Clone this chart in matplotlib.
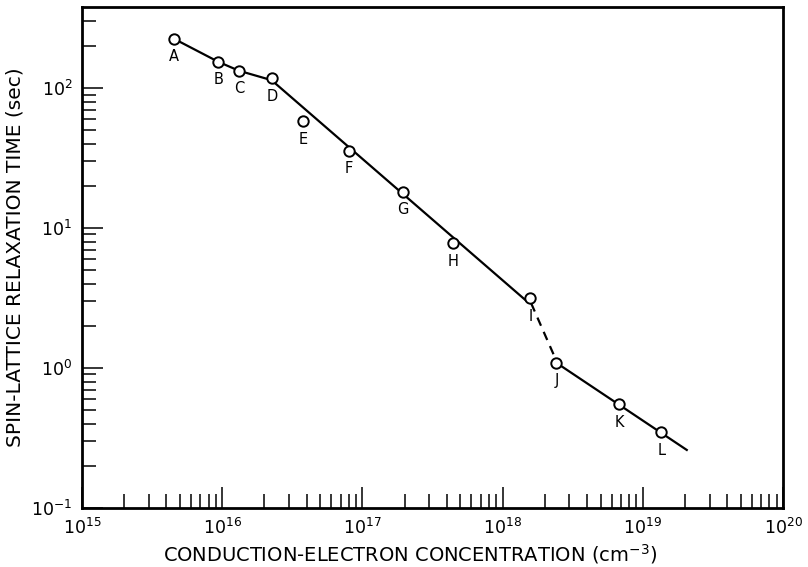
import numpy as np
import matplotlib
matplotlib.use("Agg")
import matplotlib.pyplot as plt

# ==============================
# Data
# ==============================

point_names = ["A", "B", "C", "D", "E", "F", "G", "H", "I", "J", "K", "L"]
concentration = [4.5e15, 9.4e15, 1.32e16, 2.26e16, 3.8e16, 8.0e16,
                 1.95e17, 4.4e17, 1.58e18, 2.42e18, 6.8e18, 1.36e19]
relax_time = [226, 154, 133, 118, 58, 35.6, 18.2, 7.8, 3.16, 1.09, 0.55, 0.348]

# drawn curve (low-concentration branch), solid
curve1_x = [4.5e15, 9.4e15, 1.32e16, 2.25e16, 1.49e18]
curve1_y = [226, 154, 133, 114, 3.0]
# transition I -> J, dashed
curve2_x = [1.6e18, 2.38e18]
curve2_y = [2.9, 1.17]
# high-concentration branch, solid
curve3_x = [2.42e18, 2.06e19]
curve3_y = [1.09, 0.26]

x_ticks = [1e15, 1e16, 1e17, 1e18, 1e19, 1e20]
x_ticklabels = [r"$10^{15}$", r"$10^{16}$", r"$10^{17}$", r"$10^{18}$", r"$10^{19}$", r"$10^{20}$"]
y_ticks = [1e-1, 1e0, 1e1, 1e2]
y_ticklabels = [r"$10^{-1}$", r"$10^{0}$", r"$10^{1}$", r"$10^{2}$"]

# ==============================
# Plot
# ==============================

plt.rcParams["mathtext.fontset"] = "dejavusans"
plt.rcParams["font.family"] = "DejaVu Sans"

fig = plt.figure(figsize=(8.08, 5.67), dpi=100)
ax = fig.add_axes([0.1015, 0.104, 0.8675, 0.8837])

ax.set_xscale("log")
ax.set_yscale("log")
ax.set_xlim(1e15, 1e20)
ax.set_ylim(1e-1, 380)

ax.plot(curve1_x, curve1_y, color="black", lw=1.6, zorder=2)
ax.plot(curve2_x, curve2_y, color="black", lw=1.6, ls=(0, (4, 3)), zorder=2)
ax.plot(curve3_x, curve3_y, color="black", lw=1.6, zorder=2)

ax.plot(concentration, relax_time, ls="none", marker="o", ms=7.5,
        mfc="white", mec="black", mew=1.4, zorder=3)

for name, cx, ty in zip(point_names, concentration, relax_time):
    ax.annotate(name, (cx, ty), xytext=(0, -13), textcoords="offset points",
                ha="center", va="center", fontsize=10.5)

ax.set_xticks(x_ticks)
ax.set_xticklabels(x_ticklabels, fontsize=12.5)
ax.set_yticks(y_ticks)
ax.set_yticklabels(y_ticklabels, fontsize=12.5)

ax.tick_params(which="major", direction="in", length=15, width=1.1,
               top=False, right=False, pad=7)
ax.tick_params(which="minor", direction="in", length=10, width=1.1,
               top=False, right=False)
ax.tick_params(axis="y", which="minor", labelleft=False)
ax.tick_params(axis="x", which="minor", labelbottom=False)

for s in ax.spines.values():
    s.set_linewidth(2)

ax.set_xlabel(r"CONDUCTION-ELECTRON CONCENTRATION (cm$^{-3}$)", fontsize=14)
ax.set_ylabel("SPIN-LATTICE RELAXATION TIME (sec)", fontsize=14.5)
ax.xaxis.set_label_coords(0.468, -0.068)
ax.yaxis.set_label_coords(-0.082, 0.5)

fig.savefig("out.png", dpi=100)
